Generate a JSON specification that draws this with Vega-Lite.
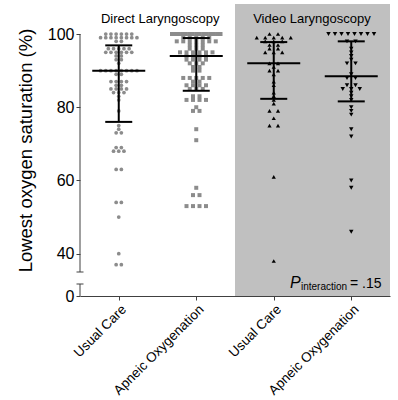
{
  "$schema": "https://vega.github.io/schema/vega-lite/v6.json",
  "width": 310,
  "height": 292,
  "autosize": {"type": "none"},
  "padding": {"left": 80, "top": 4, "right": 8, "bottom": 104},
  "background": "white",
  "config": {
    "font": "Liberation Sans",
    "view": {"stroke": null},
    "axis": {"grid": false, "labelColor": "black", "titleColor": "black", "tickColor": "#404040", "domainColor": "#404040", "labelFont": "Liberation Sans", "titleFont": "Liberation Sans"}
  },
  "datasets": {
    "obs": [
      {"g":"DL-UC","v":100},{"g":"DL-UC","v":100},{"g":"DL-UC","v":100},{"g":"DL-UC","v":100},{"g":"DL-UC","v":100},{"g":"DL-UC","v":100},
      {"g":"DL-UC","v":99},{"g":"DL-UC","v":99},{"g":"DL-UC","v":99},{"g":"DL-UC","v":99},{"g":"DL-UC","v":99},{"g":"DL-UC","v":99},{"g":"DL-UC","v":99},{"g":"DL-UC","v":99},
      {"g":"DL-UC","v":98},{"g":"DL-UC","v":98},
      {"g":"DL-UC","v":96},{"g":"DL-UC","v":96},{"g":"DL-UC","v":96},{"g":"DL-UC","v":96},{"g":"DL-UC","v":96},
      {"g":"DL-UC","v":95},{"g":"DL-UC","v":95},{"g":"DL-UC","v":95},{"g":"DL-UC","v":95},{"g":"DL-UC","v":95},{"g":"DL-UC","v":95},
      {"g":"DL-UC","v":94},{"g":"DL-UC","v":94},
      {"g":"DL-UC","v":93},{"g":"DL-UC","v":93},
      {"g":"DL-UC","v":92},
      {"g":"DL-UC","v":90},{"g":"DL-UC","v":90},{"g":"DL-UC","v":90},{"g":"DL-UC","v":90},{"g":"DL-UC","v":90},{"g":"DL-UC","v":90},{"g":"DL-UC","v":90},{"g":"DL-UC","v":90},
      {"g":"DL-UC","v":89},{"g":"DL-UC","v":89},
      {"g":"DL-UC","v":87},{"g":"DL-UC","v":87},{"g":"DL-UC","v":87},{"g":"DL-UC","v":87},
      {"g":"DL-UC","v":86},{"g":"DL-UC","v":86},
      {"g":"DL-UC","v":85},{"g":"DL-UC","v":85},{"g":"DL-UC","v":85},{"g":"DL-UC","v":85},
      {"g":"DL-UC","v":84},{"g":"DL-UC","v":84},{"g":"DL-UC","v":84},
      {"g":"DL-UC","v":83},{"g":"DL-UC","v":82},{"g":"DL-UC","v":79},{"g":"DL-UC","v":75},{"g":"DL-UC","v":74},
      {"g":"DL-UC","v":73},{"g":"DL-UC","v":73},
      {"g":"DL-UC","v":69},{"g":"DL-UC","v":69},
      {"g":"DL-UC","v":68},{"g":"DL-UC","v":68},{"g":"DL-UC","v":68},
      {"g":"DL-UC","v":63},{"g":"DL-UC","v":63},
      {"g":"DL-UC","v":54},{"g":"DL-UC","v":54},
      {"g":"DL-UC","v":50},{"g":"DL-UC","v":40},
      {"g":"DL-UC","v":37},{"g":"DL-UC","v":37},

      {"g":"DL-AO","v":100},{"g":"DL-AO","v":100},{"g":"DL-AO","v":100},{"g":"DL-AO","v":100},{"g":"DL-AO","v":100},{"g":"DL-AO","v":100},{"g":"DL-AO","v":100},{"g":"DL-AO","v":100},{"g":"DL-AO","v":100},{"g":"DL-AO","v":100},{"g":"DL-AO","v":100},{"g":"DL-AO","v":100},{"g":"DL-AO","v":100},{"g":"DL-AO","v":100},{"g":"DL-AO","v":100},
      {"g":"DL-AO","v":99},{"g":"DL-AO","v":99},{"g":"DL-AO","v":99},{"g":"DL-AO","v":99},{"g":"DL-AO","v":99},
      {"g":"DL-AO","v":98},{"g":"DL-AO","v":98},{"g":"DL-AO","v":98},{"g":"DL-AO","v":98},{"g":"DL-AO","v":98},{"g":"DL-AO","v":98},{"g":"DL-AO","v":98},
      {"g":"DL-AO","v":97},{"g":"DL-AO","v":97},{"g":"DL-AO","v":97},
      {"g":"DL-AO","v":96},{"g":"DL-AO","v":96},{"g":"DL-AO","v":96},
      {"g":"DL-AO","v":95},{"g":"DL-AO","v":95},{"g":"DL-AO","v":95},{"g":"DL-AO","v":95},{"g":"DL-AO","v":95},{"g":"DL-AO","v":95},
      {"g":"DL-AO","v":94},{"g":"DL-AO","v":94},{"g":"DL-AO","v":94},{"g":"DL-AO","v":94},
      {"g":"DL-AO","v":93},{"g":"DL-AO","v":93},{"g":"DL-AO","v":93},{"g":"DL-AO","v":93},
      {"g":"DL-AO","v":92},{"g":"DL-AO","v":92},{"g":"DL-AO","v":92},
      {"g":"DL-AO","v":91},{"g":"DL-AO","v":91},
      {"g":"DL-AO","v":90},{"g":"DL-AO","v":90},
      {"g":"DL-AO","v":88},{"g":"DL-AO","v":88},{"g":"DL-AO","v":88},{"g":"DL-AO","v":88},{"g":"DL-AO","v":88},
      {"g":"DL-AO","v":87},{"g":"DL-AO","v":87},
      {"g":"DL-AO","v":86},{"g":"DL-AO","v":86},{"g":"DL-AO","v":86},{"g":"DL-AO","v":86},
      {"g":"DL-AO","v":85},{"g":"DL-AO","v":85},{"g":"DL-AO","v":85},
      {"g":"DL-AO","v":83},{"g":"DL-AO","v":83},
      {"g":"DL-AO","v":82},{"g":"DL-AO","v":82},{"g":"DL-AO","v":82},{"g":"DL-AO","v":82},
      {"g":"DL-AO","v":80},
      {"g":"DL-AO","v":79},{"g":"DL-AO","v":79},
      {"g":"DL-AO","v":74},{"g":"DL-AO","v":71},{"g":"DL-AO","v":58},
      {"g":"DL-AO","v":56},{"g":"DL-AO","v":56},
      {"g":"DL-AO","v":53},{"g":"DL-AO","v":53},{"g":"DL-AO","v":53},{"g":"DL-AO","v":53},

      {"g":"VL-UC","v":100},{"g":"VL-UC","v":100},
      {"g":"VL-UC","v":99},{"g":"VL-UC","v":99},{"g":"VL-UC","v":99},{"g":"VL-UC","v":99},{"g":"VL-UC","v":99},
      {"g":"VL-UC","v":98},{"g":"VL-UC","v":98},{"g":"VL-UC","v":98},
      {"g":"VL-UC","v":97},{"g":"VL-UC","v":97},
      {"g":"VL-UC","v":96},{"g":"VL-UC","v":96},
      {"g":"VL-UC","v":95},{"g":"VL-UC","v":95},{"g":"VL-UC","v":95},
      {"g":"VL-UC","v":92},{"g":"VL-UC","v":92},
      {"g":"VL-UC","v":91},
      {"g":"VL-UC","v":90},{"g":"VL-UC","v":90},
      {"g":"VL-UC","v":89},{"g":"VL-UC","v":87},{"g":"VL-UC","v":86},{"g":"VL-UC","v":84},{"g":"VL-UC","v":83},{"g":"VL-UC","v":82},{"g":"VL-UC","v":81},
      {"g":"VL-UC","v":79},{"g":"VL-UC","v":79},
      {"g":"VL-UC","v":77},
      {"g":"VL-UC","v":75},{"g":"VL-UC","v":75},
      {"g":"VL-UC","v":61},{"g":"VL-UC","v":38},

      {"g":"VL-AO","v":100},{"g":"VL-AO","v":100},{"g":"VL-AO","v":100},{"g":"VL-AO","v":100},{"g":"VL-AO","v":100},{"g":"VL-AO","v":100},{"g":"VL-AO","v":100},{"g":"VL-AO","v":100},
      {"g":"VL-AO","v":98},{"g":"VL-AO","v":98},
      {"g":"VL-AO","v":96},{"g":"VL-AO","v":95},{"g":"VL-AO","v":94},{"g":"VL-AO","v":93},
      {"g":"VL-AO","v":92},{"g":"VL-AO","v":92},
      {"g":"VL-AO","v":89},
      {"g":"VL-AO","v":88},{"g":"VL-AO","v":88},
      {"g":"VL-AO","v":86},{"g":"VL-AO","v":86},
      {"g":"VL-AO","v":85},{"g":"VL-AO","v":85},{"g":"VL-AO","v":85},
      {"g":"VL-AO","v":84},{"g":"VL-AO","v":83},{"g":"VL-AO","v":82},{"g":"VL-AO","v":80},{"g":"VL-AO","v":79},{"g":"VL-AO","v":78},
      {"g":"VL-AO","v":74},{"g":"VL-AO","v":72},{"g":"VL-AO","v":60},{"g":"VL-AO","v":58},{"g":"VL-AO","v":46}
    ],
    "summary": [
      {"g":"DL-UC","median":90,"q1":76,"q3":96.9},
      {"g":"DL-AO","median":94,"q1":84.5,"q3":98.9},
      {"g":"VL-UC","median":92,"q1":82.3,"q3":97.8},
      {"g":"VL-AO","median":88.5,"q1":81.6,"q3":98}
    ],
    "axisbreak": [
      {"v": 35, "v2": 100, "cap": 35},
      {"v": 0, "v2": 3, "cap": 3}
    ],
    "note": [
      {"part": "P"},
      {"part": "interaction"},
      {"part": "= .15"}
    ]
  },
  "data": {"name": "obs"},
  "encoding": {
    "x": {
      "field": "xpos", "type": "quantitative",
      "scale": {"domain": [0.5, 4.5], "nice": false, "zero": false},
      "axis": {
        "values": [1, 2, 3, 4],
        "labelExpr": "['Usual Care','Apneic Oxygenation','Usual Care','Apneic Oxygenation'][datum.value-1]",
        "labelAngle": -45, "labelFontSize": 13.5, "tickSize": 4, "labelPadding": 2,
        "title": null, "labelOverlap": false, "labelFlush": false, "labelBound": false
      }
    },
    "y": {
      "field": "v", "type": "quantitative",
      "scale": {"domain": [0, 3, 35, 108.2], "range": [292, 280, 268, 0], "nice": false, "zero": false},
      "axis": {
        "values": [0, 40, 60, 80, 100], "domain": false,
        "title": "Lowest oxygen saturation (%)", "titleFontSize": 18.5, "titleFontWeight": "normal",
        "labelFontSize": 16, "tickSize": 4, "labelPadding": 2, "titlePadding": 12,
        "labelOverlap": false, "labelFlush": false
      }
    }
  },
  "layer": [
    {
      "transform": [
        {"filter": "indexof(datum.g,'VL')==0"},
        {"calculate": "indexof(['DL-UC','DL-AO','VL-UC','VL-AO'],datum.g)+1", "as": "idx"},
        {"aggregate": [{"op": "min", "field": "idx", "as": "lo"}, {"op": "max", "field": "idx", "as": "hi"}]},
        {"calculate": "datum.lo-0.5", "as": "xpos"},
        {"calculate": "datum.hi+0.5", "as": "xpos2"},
        {"calculate": "108.2", "as": "v"},
        {"calculate": "0", "as": "v2"}
      ],
      "mark": {"type": "rect", "color": "#c0c0c0"},
      "encoding": {
        "x2": {"field": "xpos2"},
        "y2": {"field": "v2"}
      }
    },
    {
      "transform": [
        {"calculate": "indexof(['DL-UC','DL-AO','VL-UC','VL-AO'],datum.g)+1", "as": "idx"},
        {"calculate": "indexof(datum.g,'DL')==0 ? 'Direct Laryngoscopy' : 'Video Laryngoscopy'", "as": "panel"},
        {"aggregate": [{"op": "mean", "field": "idx", "as": "xpos"}], "groupby": ["panel"]},
        {"calculate": "103", "as": "v"}
      ],
      "mark": {"type": "text", "fontSize": 13, "baseline": "alphabetic", "align": "center", "color": "black"},
      "encoding": {
        "text": {"field": "panel"}
      }
    },
    {
      "transform": [
        {"calculate": "indexof(['DL-UC','DL-AO','VL-UC','VL-AO'],datum.g)+1", "as": "idx"},
        {"window": [{"op": "row_number", "as": "rn"}], "groupby": ["g", "v"]},
        {"joinaggregate": [{"op": "count", "as": "cnt"}], "groupby": ["g", "v"]},
        {"calculate": "datum.g=='DL-UC' ? 5.2 : (datum.g=='DL-AO' ? 6.5 : 8.5)", "as": "base"},
        {"calculate": "min(datum.base, 52/datum.cnt)", "as": "sp"},
        {"calculate": "datum.idx + (datum.rn - (datum.cnt+1)/2)*datum.sp/77.5", "as": "xpos"}
      ],
      "mark": {"type": "point", "filled": true, "opacity": 1, "strokeWidth": 0},
      "encoding": {
        "shape": {"field": "g", "type": "nominal", "scale": {"domain": ["DL-UC","DL-AO","VL-UC","VL-AO"], "range": ["circle","square","triangle-up","triangle-down"]}, "legend": null},
        "color": {"field": "g", "type": "nominal", "scale": {"domain": ["DL-UC","DL-AO","VL-UC","VL-AO"], "range": ["#8c8c8c","#8c8c8c","#000000","#000000"]}, "legend": null},
        "size": {"field": "g", "type": "ordinal", "scale": {"domain": ["DL-UC","DL-AO","VL-UC","VL-AO"], "range": [14, 20, 28, 28]}, "legend": null}
      }
    },
    {
      "data": {"name": "summary"},
      "transform": [
        {"calculate": "indexof(['DL-UC','DL-AO','VL-UC','VL-AO'],datum.g)+1", "as": "xpos"},
        {"calculate": "datum.q1", "as": "v"}
      ],
      "mark": {"type": "rule", "color": "black", "strokeWidth": 2},
      "encoding": {"y2": {"field": "q3"}}
    },
    {
      "data": {"name": "summary"},
      "transform": [
        {"calculate": "indexof(['DL-UC','DL-AO','VL-UC','VL-AO'],datum.g)+1", "as": "xpos"},
        {"calculate": "datum.median", "as": "v"}
      ],
      "mark": {"type": "tick", "orient": "horizontal", "size": 53, "thickness": 2, "color": "black", "opacity": 1}
    },
    {
      "data": {"name": "summary"},
      "transform": [
        {"calculate": "indexof(['DL-UC','DL-AO','VL-UC','VL-AO'],datum.g)+1", "as": "xpos"},
        {"fold": ["q1", "q3"], "as": ["k", "v"]}
      ],
      "mark": {"type": "tick", "orient": "horizontal", "size": 27, "thickness": 2, "color": "black", "opacity": 1}
    },
    {
      "data": {"name": "axisbreak"},
      "transform": [{"calculate": "0.5", "as": "xpos"}],
      "mark": {"type": "rule", "color": "#404040", "strokeWidth": 1},
      "encoding": {"y2": {"field": "v2"}}
    },
    {
      "data": {"name": "axisbreak"},
      "transform": [{"calculate": "0.5", "as": "xpos"}, {"calculate": "datum.cap", "as": "v"}],
      "mark": {"type": "tick", "orient": "horizontal", "size": 7, "thickness": 1, "color": "#404040", "opacity": 1}
    },
    {
      "data": {"name": "note"},
      "transform": [{"calculate": "4.5", "as": "xpos"}, {"calculate": "0", "as": "v"}, {"filter": "datum.part=='P'"}],
      "mark": {"type": "text", "fontSize": 16, "fontStyle": "italic", "align": "left", "baseline": "alphabetic", "dx": -100, "dy": -8, "color": "black"},
      "encoding": {"text": {"field": "part"}}
    },
    {
      "data": {"name": "note"},
      "transform": [{"calculate": "4.5", "as": "xpos"}, {"calculate": "0", "as": "v"}, {"filter": "datum.part=='interaction'"}],
      "mark": {"type": "text", "fontSize": 10, "align": "left", "baseline": "alphabetic", "dx": -89, "dy": -6, "color": "black"},
      "encoding": {"text": {"field": "part"}}
    },
    {
      "data": {"name": "note"},
      "transform": [{"calculate": "4.5", "as": "xpos"}, {"calculate": "0", "as": "v"}, {"filter": "datum.part=='= .15'"}],
      "mark": {"type": "text", "fontSize": 14, "align": "left", "baseline": "alphabetic", "dx": -40, "dy": -8, "color": "black"},
      "encoding": {"text": {"field": "part"}}
    }
  ]
}
